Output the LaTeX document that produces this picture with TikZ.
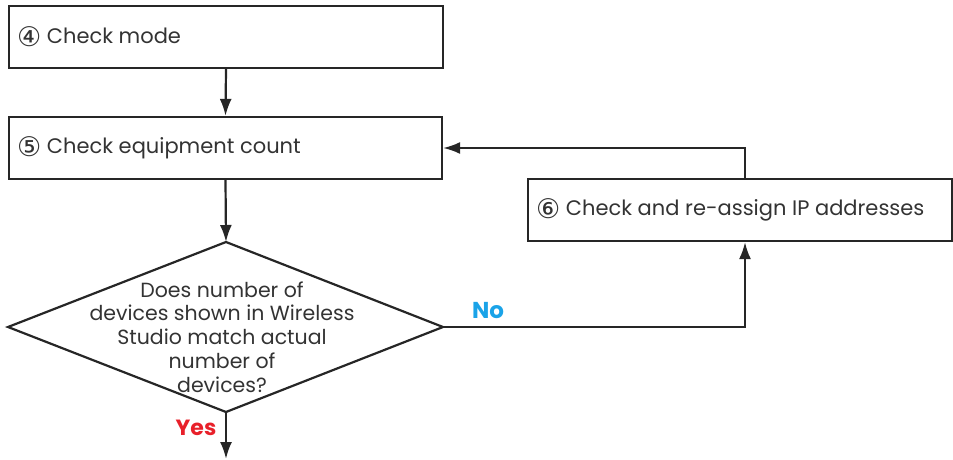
\documentclass[tikz,border=0pt]{standalone}
\usepackage{fontspec}
\setmainfont{Poppins}
\newfontfamily\circfont{DejaVu Sans}
\usetikzlibrary{arrows.meta}
\definecolor{txt}{HTML}{333333}
\definecolor{noblue}{HTML}{1AA3E8}
\definecolor{yesred}{HTML}{E8202A}
\newcommand{\circnum}[1]{{\circfont\fontsize{27}{22}\selectfont\raisebox{-0.2ex}{#1}}}
\begin{document}
\begin{tikzpicture}[x=1pt,y=1pt,
  line width=2.2pt,
  boxstyle/.style={draw=black!85, rectangle, minimum height=62pt, inner sep=0pt},
  lbl/.style={text=txt, font=\fontsize{21}{24}\selectfont, anchor=west, inner sep=0pt},
  arr/.style={draw=black!85, -{Latex[length=17pt,width=12pt]}},
  ln/.style={draw=black!85}]
\useasboundingbox (0,0) rectangle (953,459);
% boxes
\node[boxstyle, minimum width=434pt] (b4) at (226,422) {};
\node[boxstyle, minimum width=433pt] (b5) at (225.5,311) {};
\node[boxstyle, minimum width=424pt] (b6) at (740,249) {};
\node[lbl] (t4) at (16,422) {\circnum{④} Check mode};
\node[lbl] (t5) at (16,311) {\circnum{⑤} Check equipment count};
\node[lbl] (t6) at (535,249) {\circnum{⑥} Check and re-assign IP addresses};
% diamond
\coordinate (dt) at (226,217);
\coordinate (dl) at (8,132);
\coordinate (dr) at (443,132);
\coordinate (db) at (226,47);
\draw[ln, line join=miter] (dt) -- (dr) -- (db) -- (dl) -- cycle;
\node[text=txt, font=\fontsize{20.5}{23.75}\selectfont, align=center, inner sep=0pt] (dtext) at (222,122)
  {Does number of\\devices shown in Wireless\\Studio match actual\\number of\\devices?};
% connectors
\draw[arr] (b4.south) -- (b5.north);
\draw[arr] (b5.south) -- (dt);
\coordinate (yend) at (226,0);
\draw[arr] (db) -- (yend);
\coordinate (nc) at (745,132);
\draw[arr] (dr) -- (nc) -- (b6.south -| nc);
\coordinate (lc) at (745,311);
\draw[arr] (b6.north -| lc) -- (lc) -- (b5.east);
% labels
\node[text=noblue, font=\bfseries\fontsize{23}{24}\selectfont, inner sep=0pt] (no) at (488,148) {No};
\node[text=yesred, font=\bfseries\fontsize{22}{24}\selectfont, inner sep=0pt] (yes) at (196,31) {Yes};
\end{tikzpicture}
\end{document}
